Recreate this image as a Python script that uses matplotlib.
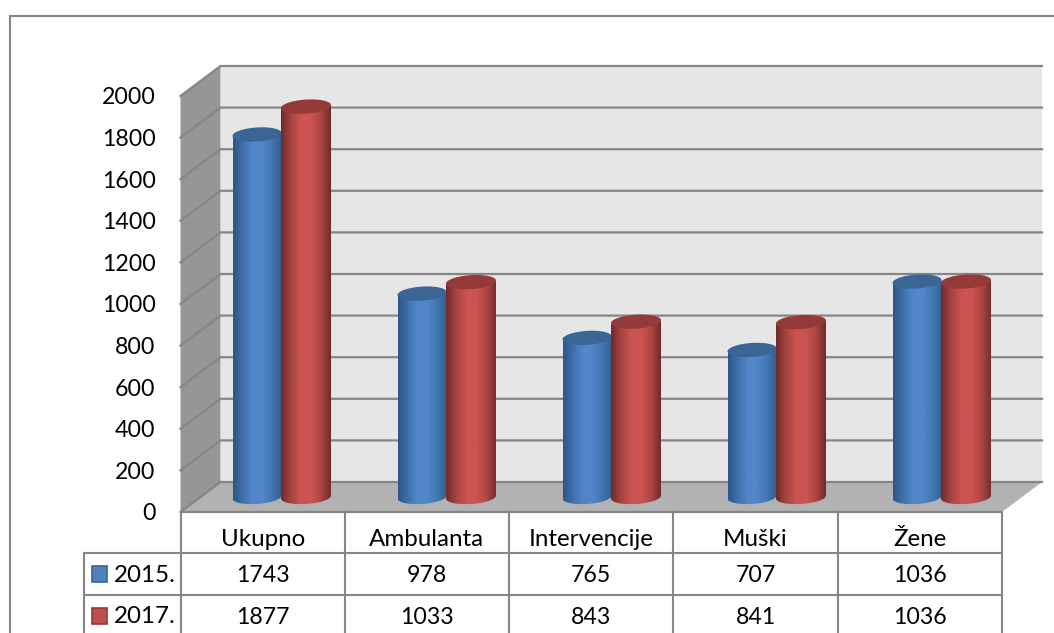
import numpy as np
import matplotlib
matplotlib.use("Agg")
import matplotlib.pyplot as plt
from matplotlib.colors import LinearSegmentedColormap
from matplotlib.patches import Polygon, Rectangle
from matplotlib.transforms import Affine2D

categories = ["Ukupno", "Ambulanta", "Intervencije", "Muški", "Žene"]
series_names = ["2015.", "2017."]
values_2015 = [1743, 978, 765, 707, 1036]
values_2017 = [1877, 1033, 843, 841, 1036]
y_ticks = list(range(0, 2001, 200))

W, H = 1054, 633
plt.rcParams["font.family"] = ["Lato", "DejaVu Sans"]
FS_NUM = 16.7
FS_CAT = 17.4
GRID = "#868686"

fig = plt.figure(figsize=(W / 100, H / 100), dpi=100, facecolor="white")
L, R, T, B = 180.5, 1002, 96, 512
ax = fig.add_axes([L / W, 1 - B / H, (R - L) / W, (B - T) / H])
ax.set_xlim(0, 5)
ax.set_ylim(0, 2000)
px = Affine2D().scale(1, -1).translate(0, H)   # pixel coordinates for the table and frame

ux = (R - L) / 5          # pixels per category
uy = (B - T) / 2000       # pixels per value unit
dx, dy = 40 / ux, 30 / uy # 3D depth in data units

for s in ax.spines.values():
    s.set_visible(False)
ax.patch.set_visible(False)
ax.set_xticks([])
ax.set_yticks(y_ticks)
ax.tick_params(axis="y", length=0, pad=18, labelsize=FS_NUM, labelcolor="black")

# walls and floor
kw = dict(clip_on=False, lw=0)
ax.add_patch(Polygon([(dx, dy), (5 + dx, dy), (5 + dx, 2000 + dy), (dx, 2000 + dy)], fc="#e6e6e6", zorder=1, **kw))
ax.add_patch(Polygon([(0, 0), (dx, dy), (dx, 2000 + dy), (0, 2000)], fc="#969696", zorder=1, **kw))
ax.add_patch(Polygon([(0, 0), (5, 0), (5 + dx, dy), (dx, dy)], fc="#b2b2b2", zorder=1, **kw))
for v in y_ticks:
    ax.plot([0, dx, 5 + dx], [v, v + dy, v + dy], color=GRID, lw=1.6, zorder=2, clip_on=False,
            solid_joinstyle="miter")
ax.plot([0, 5], [0, 0], color=GRID, lw=1.6, zorder=2, clip_on=False)

# cylinders
blue = LinearSegmentedColormap.from_list("b", ["#2d5687", "#3f70aa", "#5187c9", "#5187c9", "#4376b2", "#31608f"])
red = LinearSegmentedColormap.from_list("r", ["#6f2b2a", "#a84442", "#cb5451", "#cb5451", "#ad4644", "#702c2b"])
caps = ["#3a6595", "#943b39"]
pitch = 165 / ux
offsets = [76.5 / ux, 125.5 / ux]
half_w = [24.5 / ux, 25 / ux]
b_val = 7 / uy
tilt = 1.5 / uy
base = 15 / uy
t = np.linspace(0, 2 * np.pi, 90)
grad = np.linspace(0, 1, 128)[None, :]

for vals, cmap, cap, off, hw, sign in zip([values_2015, values_2017], [blue, red], caps, offsets, half_w, [0, 1]):
    for i, v in enumerate(vals):
        cx = i * pitch + off
        top = base + v
        ex = cx + hw * np.cos(t)
        body_top = np.linspace(0, np.pi, 45)
        body_bot = np.linspace(np.pi, 2 * np.pi, 45)
        outline = np.r_[
            np.c_[cx + hw * np.cos(body_top), top + tilt * np.cos(body_top)],
            np.c_[cx + hw * np.cos(body_bot), base + b_val * np.sin(body_bot) + tilt * np.cos(body_bot)],
        ]
        clip = Polygon(outline, transform=ax.transData, fc="none", lw=0)
        ax.add_patch(clip)
        clip.set_clip_on(False)
        im = ax.imshow(grad, cmap=cmap, extent=[cx - hw, cx + hw, 0, top + 40], aspect="auto",
                       zorder=3 + sign + i * 0.01)
        im.set_clip_path(clip)
        ax.add_patch(Polygon(np.c_[ex, top + b_val * np.sin(t) + tilt * np.cos(t)], fc=cap, lw=0,
                             zorder=3.005 + sign + i * 0.01, clip_on=False))
ax.set_xlim(0, 5)
ax.set_ylim(0, 2000)

# frame and table rules
rules = [
    ([9.5, 9.5, W], [H, 16, 16]),
    ([83.5, R], [553, 553]),
    ([83.5, R], [594.5, 594.5]),
    ([83.5, 83.5], [553, H]),
]
cols = [L + ux * k for k in range(6)]
for c in cols:
    rules.append(([c, c], [512, H]))
for xs, ys in rules:
    fig.add_artist(plt.Line2D(xs, ys, color=GRID, lw=1.5, transform=px, solid_joinstyle="miter"))

def label(x, y, s, size, ha="center"):
    fig.text(x, y, s, transform=px, ha=ha, va="center_baseline", fontsize=size, color="black")

rows = [values_2015, values_2017]
row_y = [574, 615.5]
key_fc = ["#4f81bd", "#c0504d"]
key_ec = ["#3a6595", "#943b39"]
for i, c in enumerate(categories):
    label(cols[i] + ux / 2, 537, c, FS_CAT)
for name, vals, y, fc, ec in zip(series_names, rows, row_y, key_fc, key_ec):
    fig.add_artist(Rectangle((91.5, y - 8), 15.5, 16, fc=fc, ec=ec, lw=1.2, transform=px))
    label(114, y - 1, name, FS_CAT, ha="left")
    for i, v in enumerate(vals):
        label(cols[i] + ux / 2, y, str(v), FS_NUM)

fig.savefig("out.png", dpi=100, facecolor="white")
